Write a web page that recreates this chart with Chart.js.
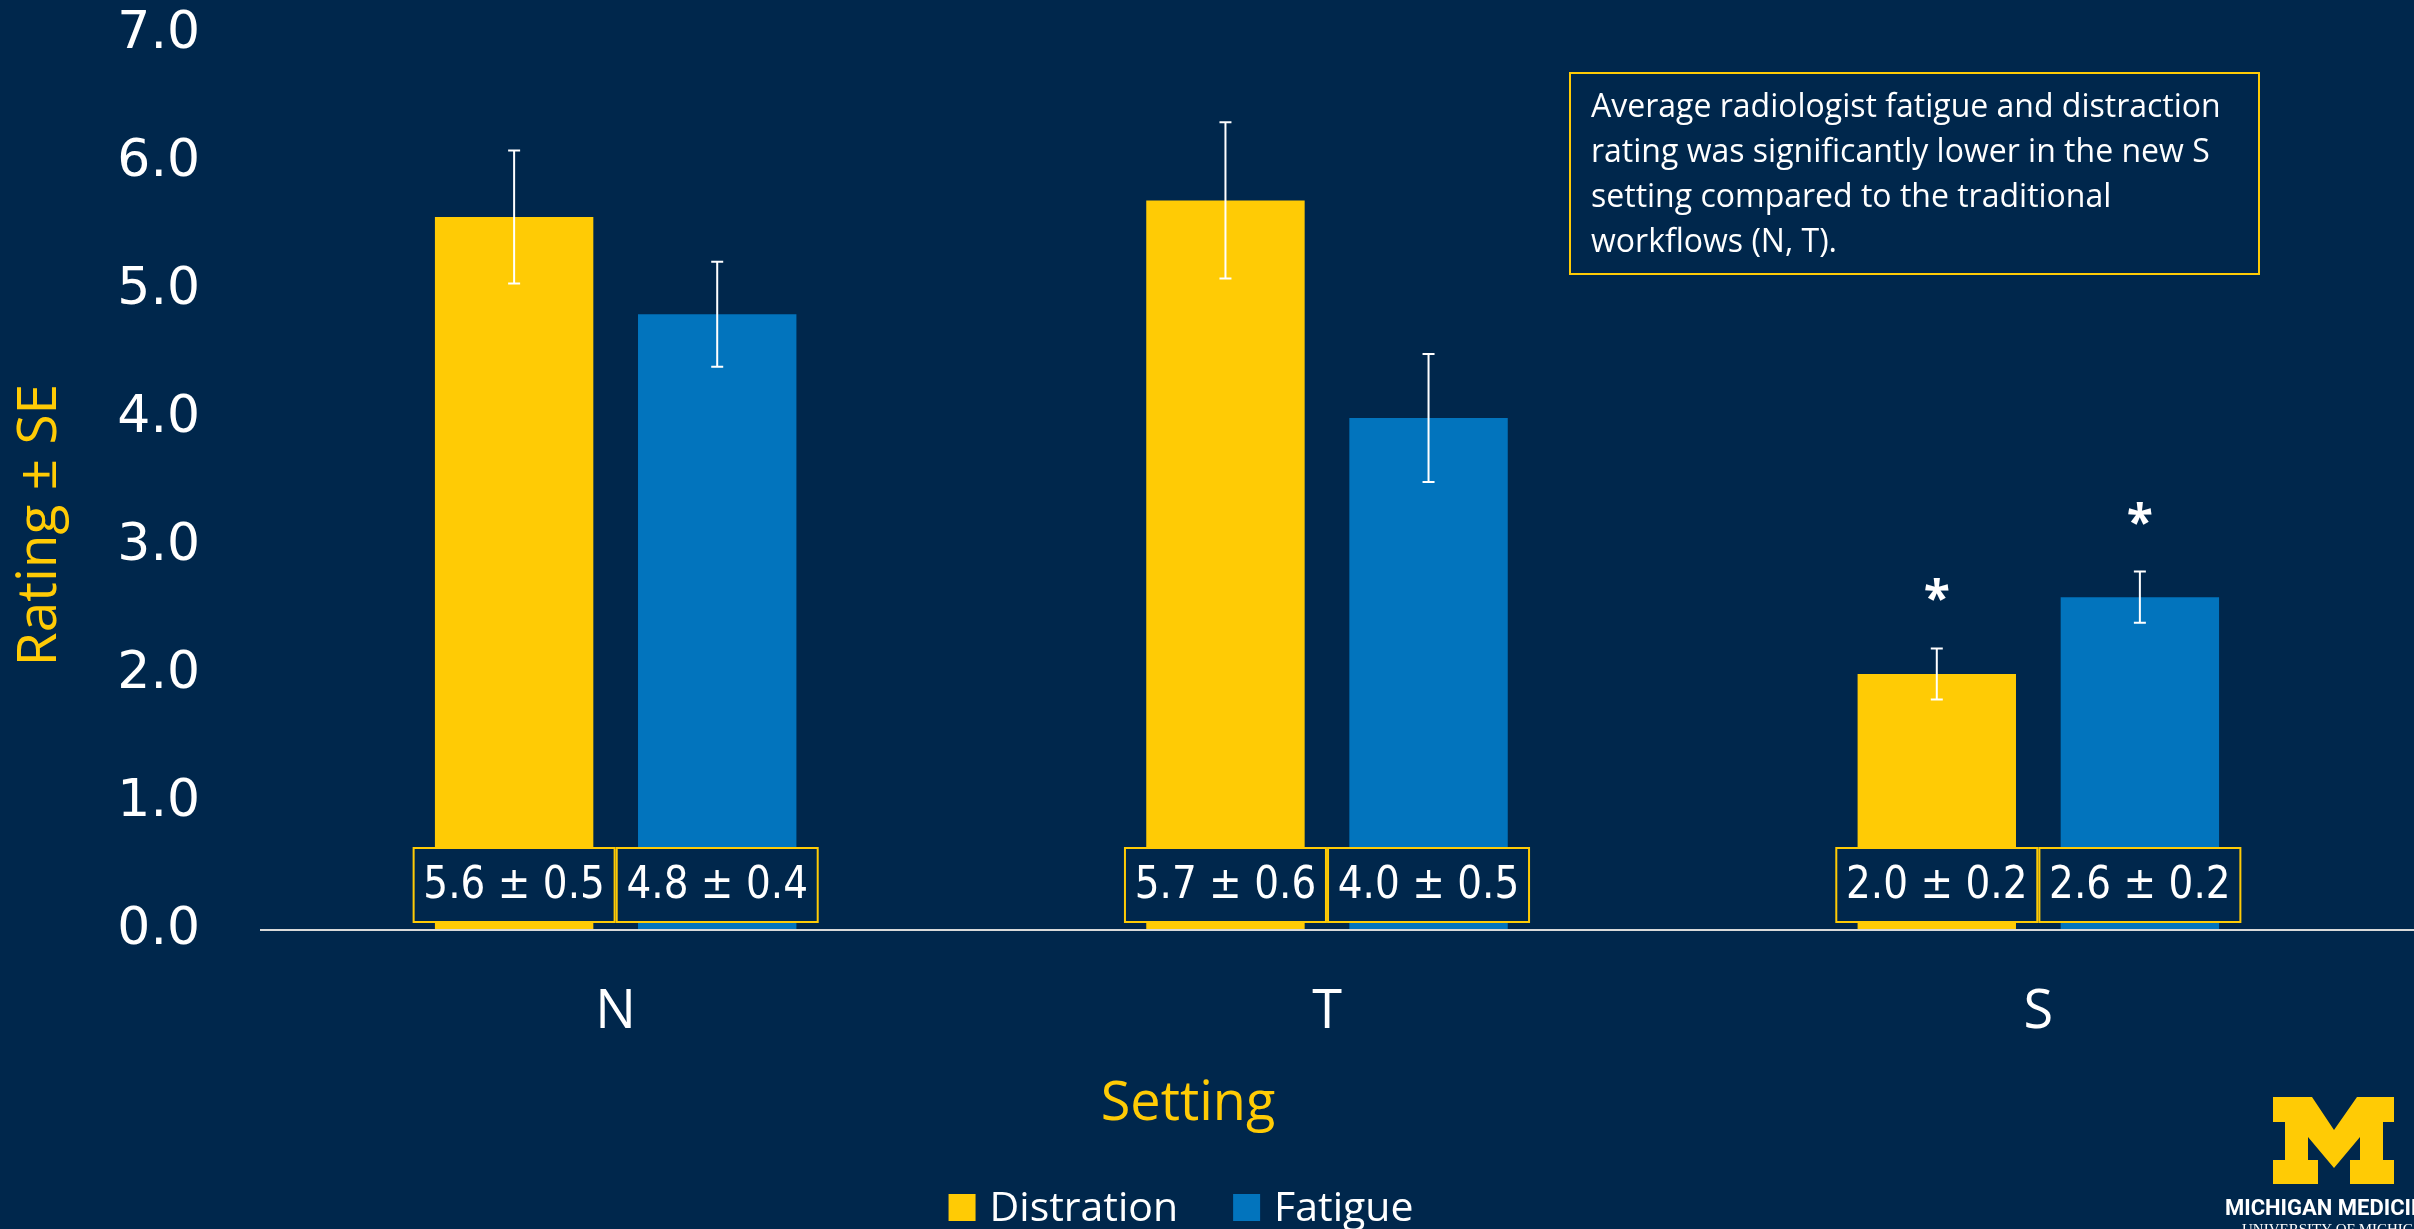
<!DOCTYPE html>
<html>
<head>
<meta charset="utf-8">
<script src="https://cdn.jsdelivr.net/npm/chart.js@4.4.1/dist/chart.umd.min.js"></script>
<style>
  html, body { margin: 0; padding: 0; background: #00274C; overflow: hidden; }
  #wrap { width: 2414px; height: 1229px; position: relative; }
</style>
</head>
<body>
<div id="wrap"><canvas id="c" width="2414" height="1229"></canvas></div>
<script>
// ---------- data ----------
const categories = ['N', 'T', 'S'];
const seriesNames = ['Distration', 'Fatigue'];
const distraction = [5.57, 5.70, 2.0];
const fatigue = [4.81, 4.0, 2.6];
const distractionSE = [0.52, 0.61, 0.2];
const fatigueSE = [0.41, 0.5, 0.2];
const distractionSig = [false, false, true];
const fatigueSig = [false, false, true];
const yTicks = [0, 1, 2, 3, 4, 5, 6, 7];
const noteLines = [
  'Average radiologist fatigue and distraction',
  'rating was significantly lower in the new S',
  'setting compared to the traditional',
  'workflows (N, T).'
];
const yTitle = 'Rating ± SE';
const xTitle = 'Setting';

// ---------- style ----------
const BG = '#00274C';
const GOLD = '#FFCB05';
const BLUE = '#0274BD';
const WHITE = '#FFFFFF';

const seList = [distractionSE, fatigueSE];
const sigList = [distractionSig, fatigueSig];

const decor = {
  id: 'decor',
  beforeDraw(chart) {
    const ctx = chart.ctx;
    ctx.save();
    ctx.fillStyle = BG;
    ctx.fillRect(0, 0, chart.width, chart.height);
    ctx.restore();
  },
  afterDatasetsDraw(chart) {
    const ctx = chart.ctx;
    const y = chart.scales.y;
    const zeroY = y.getPixelForValue(0);
    ctx.save();
    chart.data.datasets.forEach((ds, di) => {
      const meta = chart.getDatasetMeta(di);
      meta.data.forEach((bar, i) => {
        const v = ds.data[i];
        const se = seList[di][i];
        const w = 201, h = 74;
        const cx = bar.x;
        const top = zeroY - 8 - h;
        // value label box
        ctx.fillStyle = BG;
        ctx.fillRect(cx - w / 2, top, w, h);
        ctx.strokeStyle = GOLD;
        ctx.lineWidth = 2;
        ctx.strokeRect(cx - w / 2, top, w, h);
        ctx.save();
        ctx.translate(cx, top + h / 2 + 1);
        ctx.scale(1, 1.15);
        ctx.fillStyle = WHITE;
        ctx.font = '39px "DejaVu Sans"';
        ctx.textAlign = 'center';
        ctx.textBaseline = 'middle';
        ctx.fillText(v.toFixed(1) + ' ± ' + se.toFixed(1), 0, 0);
        ctx.restore();

        // error bars
        const yHi = y.getPixelForValue(v + se);
        const yLo = y.getPixelForValue(v - se);
        ctx.strokeStyle = WHITE;
        ctx.lineWidth = 2;
        ctx.beginPath();
        ctx.moveTo(cx, yHi); ctx.lineTo(cx, yLo);
        ctx.moveTo(cx - 6, yHi); ctx.lineTo(cx + 6, yHi);
        ctx.moveTo(cx - 6, yLo); ctx.lineTo(cx + 6, yLo);
        ctx.stroke();

        // significance asterisk
        if (sigList[di][i]) {
          ctx.fillStyle = WHITE;
          ctx.font = 'bold 48px "Open Sans"';
          ctx.textAlign = 'center';
          ctx.textBaseline = 'alphabetic';
          ctx.fillText('*', cx, yHi - 61 + 28);
        }
      });
    });
    // x axis line
    ctx.strokeStyle = '#D9D9D9';
    ctx.lineWidth = 2;
    ctx.beginPath();
    ctx.moveTo(chart.chartArea.left, zeroY);
    ctx.lineTo(chart.width, zeroY);
    ctx.stroke();
    ctx.restore();
  },
  afterDraw(chart) {
    const ctx = chart.ctx;
    ctx.save();
    // axis titles
    ctx.fillStyle = GOLD;
    ctx.textAlign = 'center';
    ctx.textBaseline = 'middle';
    ctx.font = '54px "Open Sans"';
    ctx.fillText(xTitle, 1188, 1105);
    ctx.save();
    ctx.translate(40, 525);
    ctx.rotate(-Math.PI / 2);
    ctx.font = '55px "Open Sans"';
    ctx.fillText(yTitle, 0, 0);
    ctx.restore();

    // note box
    ctx.strokeStyle = GOLD;
    ctx.lineWidth = 2;
    ctx.strokeRect(1570, 73, 689, 201);
    ctx.fillStyle = WHITE;
    ctx.font = '32px "Open Sans"';
    ctx.textAlign = 'left';
    ctx.textBaseline = 'alphabetic';
    noteLines.forEach((t, i) => ctx.fillText(t, 1591, 117 + i * 45));

    // legend
    ctx.font = '41px "Open Sans"';
    const items = chart.data.datasets.map(d => ({ label: d.label, color: d.backgroundColor }));
    const boxW = 27, gap = 14, itemGap = 55;
    const widths = items.map(it => boxW + gap + ctx.measureText(it.label).width);
    const total = widths.reduce((a, b) => a + b, 0) + itemGap * (items.length - 1);
    let x = 1181 - total / 2;
    items.forEach((it, i) => {
      ctx.fillStyle = it.color;
      ctx.fillRect(x, 1194, boxW, 27);
      ctx.fillStyle = WHITE;
      ctx.fillText(it.label, x + boxW + gap, 1221);
      x += widths[i] + itemGap;
    });

    // logo
    const M = [[2273,1097],[2312,1097],[2334,1130],[2357,1097],[2394,1097],[2394,1122],[2383,1122],[2383,1160],[2394,1160],[2394,1184],[2350,1184],[2350,1160],[2360,1160],[2360,1137],[2334,1168],[2308,1137],[2308,1160],[2318,1160],[2318,1184],[2273,1184],[2273,1160],[2285,1160],[2285,1122],[2273,1122]];
    ctx.fillStyle = GOLD;
    ctx.beginPath();
    M.forEach((p, i) => i ? ctx.lineTo(p[0], p[1]) : ctx.moveTo(p[0], p[1]));
    ctx.closePath();
    ctx.fill();
    ctx.fillStyle = WHITE;
    ctx.font = 'bold 22px "Liberation Sans Narrow", "Roboto", sans-serif';
    ctx.fillText('MICHIGAN MEDICINE', 2225, 1215);
    ctx.font = '15px "Liberation Serif", serif';
    ctx.fillText('UNIVERSITY OF MICHIGAN', 2242, 1234);
    ctx.restore();
  }
};

new Chart(document.getElementById('c'), {
  type: 'bar',
  data: {
    labels: categories,
    datasets: [
      { label: seriesNames[0], data: distraction, backgroundColor: GOLD, borderWidth: 0 },
      { label: seriesNames[1], data: fatigue, backgroundColor: BLUE, borderWidth: 0 }
    ]
  },
  options: {
    responsive: false,
    animation: false,
    devicePixelRatio: 1,
    layout: { padding: { left: 7, right: 20, top: 34, bottom: 91 } },
    datasets: { bar: { categoryPercentage: 0.571, barPercentage: 0.78 } },
    plugins: { legend: { display: false }, tooltip: { enabled: false } },
    scales: {
      x: {
        grid: { display: false, drawTicks: false },
        border: { display: false },
        ticks: { color: WHITE, font: { family: 'Open Sans', size: 54 }, padding: 50 },
        title: { display: false, text: xTitle },
        afterFit(scale) { scale.height = 208; scale.paddingLeft = 0; scale.paddingRight = 0; }
      },
      y: {
        min: 0, max: 7,
        afterBuildTicks(scale) { scale.ticks = yTicks.map(v => ({ value: v })); },
        grid: { display: false, drawTicks: false },
        border: { display: false },
        ticks: { color: WHITE, font: { family: 'DejaVu Sans', size: 52 }, padding: 60, callback: v => Number(v).toFixed(1) },
        title: { display: false, text: yTitle },
        afterFit(scale) { scale.width = 253; scale.paddingTop = 0; scale.paddingBottom = 0; }
      }
    }
  },
  plugins: [decor]
});
</script>
</body>
</html>
